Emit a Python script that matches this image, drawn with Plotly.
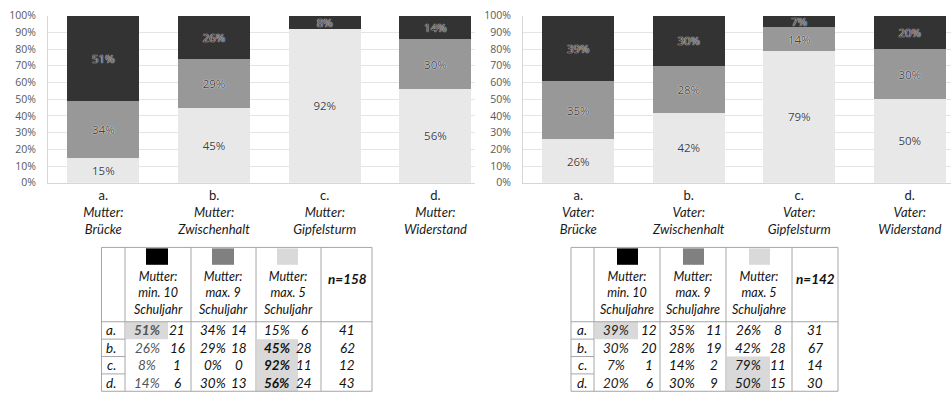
import plotly.graph_objects as go

# ---------------- data ----------------
rows = ["a.", "b.", "c.", "d."]
names = ["Brücke", "Zwischenhalt", "Gipfelsturm", "Widerstand"]

mutter_min10 = [51, 26, 8, 14]
mutter_max9 = [34, 29, 0, 30]
mutter_max5 = [15, 45, 92, 56]
mutter_n_min10 = [21, 16, 1, 6]
mutter_n_max9 = [14, 18, 0, 13]
mutter_n_max5 = [6, 28, 11, 24]
mutter_n = [41, 62, 12, 43]
mutter_total = 158

vater_min10 = [39, 30, 7, 20]
vater_max9 = [35, 28, 14, 30]
vater_max5 = [26, 42, 79, 50]
vater_n_min10 = [12, 20, 1, 6]
vater_n_max9 = [11, 19, 2, 9]
vater_n_max5 = [8, 28, 11, 15]
vater_n = [31, 67, 14, 30]
vater_total = 142

y_ticks = list(range(0, 101, 10))
y_ticktext = [f"{v}%" for v in y_ticks]

hdr_mutter = [["Mutter:", "min. 10", "Schuljahr"], ["Mutter:", "max. 9", "Schuljahr"], ["Mutter:", "max. 5", "Schuljahr"]]
hdr_vater = [["Mutter:", "min. 10", "Schuljahre"], ["Mutter:", "max. 9", "Schuljahre"], ["Mutter:", "max. 5", "Schuljahre"]]

# ---------------- styles ----------------
W, H = 951, 406
C_DARK, C_MID, C_LIGHT = "#333333", "#989898", "#e8e8e8"
SW_COLORS = ["#000000", "#808080", "#d9d9d9"]
GRID = "#e4e4e4"
AX = "#d6d6d6"
TBL_LINE = "#a6a6a6"
HILITE = "#d9d9d9"
CHART_FONT = "Open Sans"
TBL_FONT = "Lato"
SHADOW = "0px 0px 1px #ffffff, 0px 0px 1px #ffffff"


def px(x):
    return x / W


def py(y):
    return 1 - y / H


fig = go.Figure()


def add_bars(parent, lo, mid, hi, xa, ya):
    cats = [f"{r}<br><i>{parent}:</i><br><i>{n}</i>" for r, n in zip(rows, names)]
    for vals, col in ((lo, C_LIGHT), (mid, C_MID), (hi, C_DARK)):
        fig.add_trace(go.Bar(
            x=cats, y=vals, xaxis=xa, yaxis=ya,
            marker=dict(color=col, line=dict(width=0)),
            width=0.65,
            text=[f"{v}%" if v > 0 else "" for v in vals],
            textposition="inside", insidetextanchor="middle",
            constraintext="none", textangle=0,
            textfont=dict(family=CHART_FONT, size=11.5, color="#404040", shadow=SHADOW),
            showlegend=False, hoverinfo="skip",
        ))


add_bars("Mutter", mutter_max5, mutter_max9, mutter_min10, "x", "y")
add_bars("Vater", vater_max5, vater_max9, vater_min10, "x2", "y2")

ydom = [py(182), py(9)]
ax_common = dict(
    type="category", showgrid=False, showline=True, linecolor=AX, linewidth=1,
    ticks="", tickfont=dict(family=TBL_FONT, size=13, color="#1a1a1a"),
    ticklabelstandoff=1, fixedrange=True,
)
y_common = dict(
    range=[0, 100], tickvals=y_ticks, ticktext=y_ticktext, showgrid=True,
    gridcolor=GRID, gridwidth=1, showline=True, linecolor=AX, linewidth=1,
    zeroline=False, ticks="", tickfont=dict(family=CHART_FONT, size=10.5, color="#595959"),
    ticklabelstandoff=9, domain=ydom, fixedrange=True,
)
fig.update_layout(
    width=W, height=H, margin=dict(l=0, r=0, t=0, b=0),
    paper_bgcolor="white", plot_bgcolor="white", barmode="stack", bargap=0.35,
    xaxis=dict(domain=[px(48), px(475)], range=[-0.5, -0.5 + 427 / 110.7], anchor="y", **ax_common),
    yaxis=dict(anchor="x", **y_common),
    xaxis2=dict(domain=[px(523), 1.0], range=[-0.5, -0.5 + 428 / 110.5], anchor="y2", **ax_common),
    yaxis2=dict(anchor="x2", **y_common),
)

# ---------------- tables ----------------
shapes = []
annots = []


def line(x0, y0, x1, y1):
    shapes.append(dict(type="line", xref="paper", yref="paper", x0=px(x0), y0=py(y0), x1=px(x1), y1=py(y1),
                       line=dict(color=TBL_LINE, width=1), layer="above"))


def rect(x0, y0, x1, y1, color):
    shapes.append(dict(type="rect", xref="paper", yref="paper", x0=px(x0), y0=py(y0), x1=px(x1), y1=py(y1),
                       fillcolor=color, line=dict(width=0), layer="below"))


def text(x, y, s, size=13.5, color="#111111", bold=False, italic=True):
    if bold:
        s = f"<b>{s}</b>"
    if italic:
        s = f"<i>{s}</i>"
    annots.append(dict(x=px(x), y=py(y), xref="paper", yref="paper", text=s, showarrow=False,
                       xanchor="center", yanchor="middle",
                       font=dict(family=TBL_FONT, size=size, color=color)))


def table(cols, sw_x, pct_x, cnt_x, row_x, n_x, hdr, pcts, cnts, ns, total, hilites, bold_hilite, pct_colors):
    top, hdr_bot, bot = 249, 326, 398
    row_h = (bot - hdr_bot) / 4
    for (r0, r1, c) in hilites:
        rect(cols[c + 1] + 1, hdr_bot + r0 * row_h, sw_x[c][1], hdr_bot + r1 * row_h, HILITE)
    for c in range(3):
        rect(sw_x[c][0], 250, sw_x[c][1], 267, SW_COLORS[c])
    line(cols[0], top, cols[-1], top)
    line(cols[0], bot, cols[-1], bot)
    line(cols[0], hdr_bot, cols[-1], hdr_bot)
    for xc in cols:
        line(xc, top, xc, bot)
    for r in range(1, 4):
        line(cols[0], hdr_bot + r * row_h, cols[1], hdr_bot + r * row_h)
    for c in range(3):
        cx = (cols[c + 1] + cols[c + 2]) / 2
        text(cx, 296.5, "<br>".join(f"<i>{t}</i>" for t in hdr[c]), size=12.5, italic=False)
    text(n_x, 282, f"n={total}", bold=True)
    for r in range(4):
        yy = hdr_bot + (r + 0.5) * row_h
        text(row_x, yy, rows[r])
        for c in range(3):
            is_hl = any(r0 <= r < r1 and cc == c for (r0, r1, cc) in hilites)
            text(pct_x[c], yy, f"{pcts[c][r]}%", bold=(is_hl and bold_hilite), color=pct_colors[c])
            text(cnt_x[c], yy, str(cnts[c][r]))
        text(n_x, yy, str(ns[r]))


table(cols=[101.5, 125, 191, 256, 321, 372],
      sw_x=[(146, 168), (212, 234), (277, 298)],
      pct_x=[147, 213, 277], cnt_x=[177, 239, 304], row_x=111, n_x=347,
      hdr=hdr_mutter,
      pcts=[mutter_min10, mutter_max9, mutter_max5],
      cnts=[mutter_n_min10, mutter_n_max9, mutter_n_max5],
      ns=mutter_n, total=mutter_total,
      hilites=[(0, 1, 0), (1, 4, 2)], bold_hilite=True,
      pct_colors=["#555555", "#111111", "#111111"])

table(cols=[571, 594, 660, 726, 792, 838],
      sw_x=[(617, 638), (683, 704), (749, 770)],
      pct_x=[616, 682, 748], cnt_x=[649, 714, 778], row_x=582, n_x=815,
      hdr=hdr_vater,
      pcts=[vater_min10, vater_max9, vater_max5],
      cnts=[vater_n_min10, vater_n_max9, vater_n_max5],
      ns=vater_n, total=vater_total,
      hilites=[(0, 1, 0), (2, 4, 2)], bold_hilite=False,
      pct_colors=["#222222", "#111111", "#111111"])

fig.update_layout(shapes=shapes, annotations=annots)
fig.write_html("out.html", config={"displayModeBar": False},
               post_script="document.body.style.margin='0';document.body.style.overflow='hidden';")
